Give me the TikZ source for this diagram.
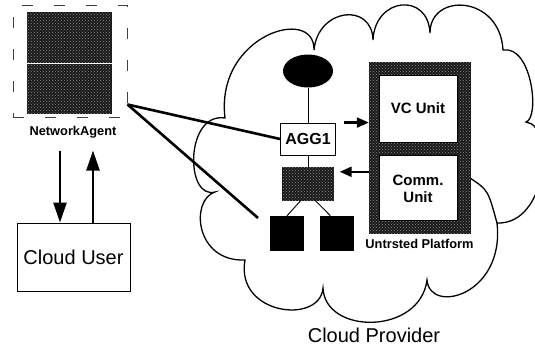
\documentclass[tikz,border=0pt]{standalone}
\usepackage{fontspec}
\setmainfont{Liberation Sans}
\usetikzlibrary{arrows.meta,patterns,positioning,shapes.geometric,calc}

\begin{document}
\begin{tikzpicture}[x=1pt, y=1pt,
          box/.style={rectangle, draw, line width=0.9pt, fill=white, inner sep=0pt},
          mottled/.style={rectangle, draw=black!90, fill=black!90, inner sep=0pt,
            postaction={pattern=crosshatch dots, pattern color=black!45}},
          blackbox/.style={rectangle, fill=black, inner sep=0pt, minimum width=34pt, minimum height=35pt},
          bigarrow/.style={line width=2.5pt, -{Triangle[width=13pt,length=20pt]}},
          midarrow/.style={line width=2.2pt, -{Triangle[width=10pt,length=12pt]}},
          wire/.style={line width=0.9pt},
          link/.style={line width=2.6pt},
          cloudline/.style={line width=1.3pt},
          unit/.style={font=\fontsize{15}{17}\selectfont\bfseries, align=center},
          small/.style={font=\fontsize{12.8}{14}\selectfont\bfseries},
          big/.style={font=\fontsize{20}{24}\selectfont}]

          \useasboundingbox (0,0) rectangle (535,-349);

          % cloud outline
          \draw[cloudline] (225,-118)
            .. controls (215,-35) and (315,-5) .. (314,-50)
            .. controls (318,-8) and (372,-2) .. (373,-40)
            .. controls (375,3) and (428,8) .. (430,-33)
            .. controls (430,8) and (500,5) .. (503,-50)
            .. controls (532,-45) and (540,-118) .. (526,-122)
            .. controls (555,-125) and (548,-225) .. (497,-223)
            .. controls (505,-295) and (430,-315) .. (427,-280)
            .. controls (420,-335) and (325,-335) .. (323,-288)
            .. controls (320,-325) and (235,-315) .. (245,-260)
            .. controls (195,-262) and (190,-200) .. (215,-192)
            .. controls (185,-200) and (185,-112) .. (225,-118) -- cycle;
          \draw[cloudline] (470,-178) .. controls (488,-190) .. (497,-223);

          % network agent
          \node[mottled, minimum width=84pt, minimum height=50pt] (natop) at (69,-37) {};
          \node[mottled, minimum width=84pt, minimum height=49pt] (nabot) at (69,-88.5) {};
          \node[rectangle, draw=black!75, line width=1pt, dash pattern=on 11pt off 21pt,
                minimum width=114pt, minimum height=112pt] (na) at (70,-61) {};
          \node[small] (nalabel) at (73,-132) {NetworkAgent};

          \node[box, big, minimum width=113pt, minimum height=68pt] (user) at (73.5,-257) {Cloud User};

          \draw[bigarrow, shorten <=9pt] ([xshift=-13pt]nalabel.south) -- ([xshift=-13pt]nalabel.south |- user.north);
          \draw[bigarrow, shorten >=9pt] ([xshift=20pt]nalabel.south |- user.north) -- ([xshift=20pt]nalabel.south);

          % provider side
          \node[ellipse, fill, minimum width=50pt, minimum height=33pt, inner sep=0pt] (head) at (308,-71) {};
          \node[box, font=\fontsize{16}{18}\selectfont\bfseries, minimum width=55pt, minimum height=32pt] (agg) at (308,-139) {AGG1};
          \node[mottled, minimum width=51pt, minimum height=33pt] (hub) at (308,-183.5) {};
          \node[blackbox] (leafL) at (287,-233.5) {};
          \node[blackbox, right=16pt of leafL] (leafR) {};

          \draw[wire] (head.south) -- (agg.north);
          \draw[wire] (agg.south) -- (hub.north);
          \draw[wire] ([xshift=-7pt]hub.south) -- (leafL.north);
          \draw[wire] ([xshift=7pt]hub.south) -- ([xshift=-7pt]leafR.north);

          % untrusted platform
          \node[mottled, minimum width=101pt, minimum height=171pt] (plat) at (419.5,-147.5) {};
          \node[box, unit, minimum width=78pt, minimum height=67pt] (vc) at (418,-108.5) {VC Unit};
          \node[box, unit, minimum width=78pt, minimum height=65pt, below=13pt of vc] (comm) {Comm.\\Unit};
          \node[small, below=2pt of plat] (platlabel) {Untrsted Platform};

          \draw[midarrow] ([xshift=8pt]agg.north east) -- (agg.north east -| plat.west);
          \draw[midarrow] ($(hub.north east -| plat.west)+(0,-5pt)$) -- ($(hub.north east)+(6pt,-5pt)$);

          \node[big] (provider) at (374,-335) {Cloud Provider};

          % links from the agent
          \coordinate (nafoot) at ([yshift=13pt]na.south east);
          \coordinate (linkend) at (258,-218);
          \draw[link] (nafoot) -- (agg.west);
          \draw[link] (nafoot) -- (linkend);
        \end{tikzpicture}
\end{document}
